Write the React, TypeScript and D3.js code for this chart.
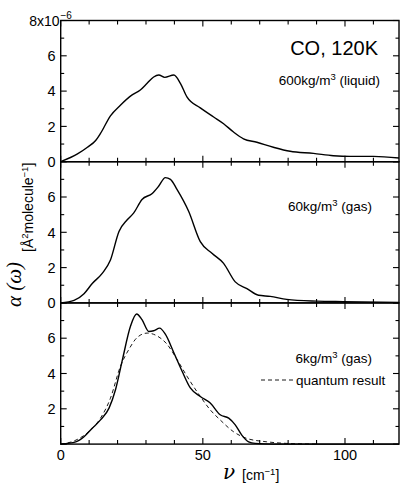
import React from "react";
import * as d3 from "d3";

// ---- data ----
const x600 = [0, 5.9, 9.4, 12.3, 14, 17.5, 21, 25, 28, 30.4, 32.7, 34.5, 36.6, 39.8, 42.1, 44.4, 49.1, 53.8, 57.3, 60.8, 64.3, 69, 74.8, 80.7, 88.9, 95.9, 101.8, 110, 119];
const y600 = [0, 0.44, 0.82, 1.2, 1.6, 2.6, 3.2, 3.77, 4.06, 4.44, 4.8, 4.91, 4.78, 4.91, 4.44, 3.67, 3.05, 2.53, 2.15, 1.68, 1.3, 1.1, 0.82, 0.59, 0.47, 0.34, 0.3, 0.3, 0.21];

const x60 = [0, 4.7, 8.2, 11.1, 14.6, 17.5, 20.5, 23.4, 25.7, 28.6, 32.2, 34.5, 36.8, 38.6, 40.9, 45, 49.1, 53.2, 57.3, 61.4, 65.5, 69.6, 73.7, 79.5, 90, 99.4, 119];
const y60 = [0, 0.14, 0.52, 1.1, 1.67, 2.43, 4.05, 4.71, 5.1, 5.86, 6.2, 6.62, 7.1, 7.0, 6.43, 5.19, 3.47, 2.81, 2.24, 1.19, 0.81, 0.43, 0.37, 0.2, 0.1, 0.07, 0.03];

const x6 = [0, 5.3, 8.2, 11.1, 14, 17, 19.3, 21.6, 24.6, 26.7, 28.6, 31, 32.7, 34.8, 36.8, 39.8, 42.7, 45.6, 49.1, 52.6, 56.1, 59.1, 61.4, 63.7, 66.1, 68.4, 75, 119];
const y6 = [0, 0.13, 0.42, 0.9, 1.37, 2.04, 3.09, 4.7, 6.7, 7.37, 7.05, 6.38, 6.42, 6.57, 6.23, 5.18, 4.13, 3.18, 2.7, 2.33, 1.66, 1.47, 1.09, 0.51, 0.13, 0.04, 0, 0];

const xQuantum = [0, 5, 10.5, 14, 17.5, 21, 24, 26.9, 30.4, 33.9, 37.4, 40.9, 44.4, 49.1, 52.6, 56.1, 60.8, 65.5, 72.5, 79.5, 90];
const yQuantum = [0, 0.2, 0.8, 1.47, 2.6, 4.4, 5.37, 6.04, 6.29, 6.13, 5.66, 4.8, 3.85, 2.7, 1.94, 1.37, 0.7, 0.32, 0.13, 0.04, 0];

const xMajorTicks = [0, 50, 100];
const xMinorTicks = [10, 20, 30, 40, 60, 70, 80, 90, 110];
const yMajorTicks = [0, 2, 4, 6, 8];
const yMinorTicks = [1, 3, 5, 7];
const panelLabels = ["600kg/m", "60kg/m", "6kg/m"];
const panelLabelTails = [" (liquid)", " (gas)", "  (gas)"];

const W = 401, H = 483;
const left = 60.7, right = 399;
const top0 = 20.5, panelH = 141.2;
const SANS = "'Liberation Sans', Arial, Helvetica, sans-serif";

const x = d3.scaleLinear().domain([0, 119]).range([left, right]);

function Panel({ idx, series }: { idx: number; series: { xs: number[]; ys: number[]; dashed?: boolean }[] }) {
  const t = top0 + idx * panelH;
  const b = t + panelH;
  const y = d3.scaleLinear().domain([0, 8]).range([b, t]);
  const line = d3.line<[number, number]>().x(d => x(d[0])).y(d => y(d[1])).curve(d3.curveMonotoneX);
  const tickLabels = idx === 2 ? [2, 4, 6] : [0, 2, 4, 6];
  return (
    <g>
      {series.map((s, i) => (
        <path key={i} d={line(s.xs.map((v, j) => [v, s.ys[j]]) as [number, number][]) || ""}
          fill="none" stroke="#000" strokeWidth={s.dashed ? 0.9 : 1.4}
          strokeDasharray={s.dashed ? "4,3" : undefined} />
      ))}
      <rect x={left} y={t} width={right - left} height={panelH} fill="none" stroke="#000" strokeWidth={1.4} />
      {xMajorTicks.concat(xMinorTicks).map(v => {
        const L = xMajorTicks.includes(v) ? 6 : 4;
        return (
          <g key={"x" + v}>
            <line x1={x(v)} x2={x(v)} y1={b} y2={b - L} stroke="#000" strokeWidth={1.1} />
            <line x1={x(v)} x2={x(v)} y1={t} y2={t + L} stroke="#000" strokeWidth={1.1} />
          </g>
        );
      })}
      {yMajorTicks.concat(yMinorTicks).map(v => {
        const L = yMajorTicks.includes(v) ? 6 : 3.5;
        return (
          <g key={"y" + v}>
            <line x1={left} x2={left + L} y1={y(v)} y2={y(v)} stroke="#000" strokeWidth={1.1} />
            <line x1={right} x2={right - L} y1={y(v)} y2={y(v)} stroke="#000" strokeWidth={1.1} />
          </g>
        );
      })}
      {tickLabels.map(v => (
        <text key={"l" + v} x={55.5} y={y(v) + 5.2} textAnchor="end" fontSize={14.5} fontFamily={SANS}>{v}</text>
      ))}
      {idx === 0 && (
        <text x={59.5} y={y(8) + 5} textAnchor="end" fontSize={14} fontFamily={SANS}>8x10</text>
      )}
      {idx === 0 && (
        <text x={60.5} y={y(8) - 2} fontSize={10} fontFamily={SANS}>−6</text>
      )}
      <text x={idx === 0 ? 380 : 372} y={idx === 0 ? t + 64 : idx === 1 ? t + 49 : t + 60}
        textAnchor="end" fontSize={13.5} fontFamily={SANS}>
        {panelLabels[idx]}
        <tspan dy={-5} fontSize={9.5}>3</tspan>
        <tspan dy={5}>{panelLabelTails[idx]}</tspan>
      </text>
    </g>
  );
}

export default function App() {
  return (
    <svg width={W} height={H} style={{ position: "absolute", left: 0, top: 0, background: "#fff" }}>
      <rect width={W} height={H} fill="#fff" />
      <Panel idx={0} series={[{ xs: x600, ys: y600 }]} />
      <Panel idx={1} series={[{ xs: x60, ys: y60 }]} />
      <Panel idx={2} series={[{ xs: xQuantum, ys: yQuantum, dashed: true }, { xs: x6, ys: y6 }]} />
      <text x={378} y={55} textAnchor="end" fontSize={20} fontFamily={SANS}>CO, 120K</text>
      {/* legend */}
      <line x1={261} x2={293} y1={380} y2={380} stroke="#000" strokeWidth={0.9} strokeDasharray="4,3" />
      <text x={296} y={384.5} fontSize={13.5} fontFamily={SANS}>quantum result</text>
      {/* x tick labels */}
      {xMajorTicks.map(v => (
        <text key={v} x={x(v)} y={459.5} textAnchor="middle" fontSize={14.5} fontFamily={SANS}>{v}</text>
      ))}
      {/* x title */}
      <text x={223} y={479} fontSize={20} fontStyle="italic" fontFamily="'DejaVu Serif', 'Liberation Serif', serif">ν</text>
      <text x={242} y={480} fontSize={14} fontFamily={SANS}>
        [cm<tspan dy={-5.5} fontSize={9.5}>−1</tspan><tspan dy={5.5}>]</tspan>
      </text>
      {/* y title */}
      <text transform="translate(21,307) rotate(-90)" fontSize={21} fontStyle="italic" fontFamily="'Liberation Serif', 'DejaVu Serif', serif">
        α (ω)
      </text>
      <text transform="translate(33,252) rotate(-90)" fontSize={14} fontFamily={SANS}>
        [Å<tspan dy={-5.5} fontSize={9.5}>2</tspan><tspan dy={5.5}>molecule</tspan><tspan dy={-5.5} fontSize={9.5}>−1</tspan><tspan dy={5.5}>]</tspan>
      </text>
    </svg>
  );
}
